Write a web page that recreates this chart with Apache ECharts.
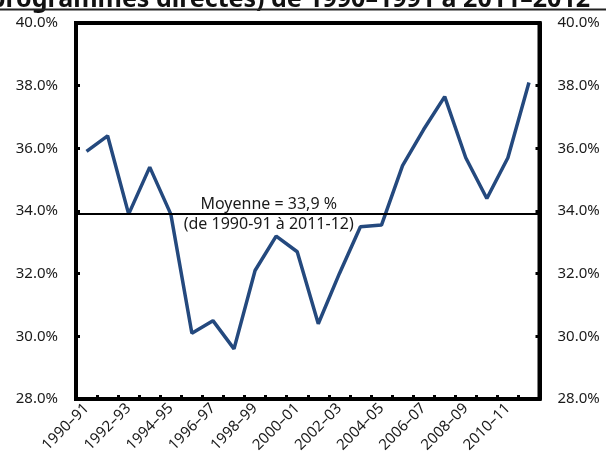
<!DOCTYPE html>
<html>
<head>
<meta charset="utf-8">
<script src="https://cdn.jsdelivr.net/npm/echarts@6/dist/echarts.min.js"></script>
<style>
  html, body { margin: 0; padding: 0; background: #fff; }
  #chart { width: 606px; height: 461px; }
</style>
</head>
<body>
<div id="chart"></div>
<script>
// Fiscal years on the category axis
var years = ['1990–91', '1991–92', '1992–93', '1993–94', '1994–95', '1995–96',
  '1996–97', '1997–98', '1998–99', '1999–00', '2000–01', '2001–02', '2002–03',
  '2003–04', '2004–05', '2005–06', '2006–07', '2007–08', '2008–09', '2009–10',
  '2010–11', '2011–12'];

// Share per year, in percent
var share = [35.9, 36.4, 33.9, 35.4, 33.9, 30.1, 30.5, 29.6, 32.1, 33.2, 32.7,
  30.4, 32.0, 33.5, 33.55, 35.45, 36.6, 37.65, 35.7, 34.4, 35.7, 38.1];

// Period average
var average = 33.9;
var averageText = ['Moyenne = 33,9 %', '(de 1990-91 à 2011-12)'];

var titleText = '(programmes directes) de 1990–1991 à 2011–2012';

var yMin = 28, yMax = 40, yStep = 2;

var font = '"Noto Sans", "Open Sans", sans-serif';
var ink = '#1a1a1a';

function pct(v) { return v.toFixed(1) + '%'; }

var chart = echarts.init(document.getElementById('chart'), null, { renderer: 'canvas' });

var yAxisBase = {
  type: 'value',
  min: yMin, max: yMax, interval: yStep,
  axisLine: { show: true, lineStyle: { color: '#000', width: 4 } },
  axisTick: { show: true, inside: true, length: 4, lineStyle: { color: '#000', width: 3 } },
  splitLine: { show: false },
  axisLabel: { formatter: pct, color: ink, fontFamily: font, fontSize: 15, margin: 18 }
};

chart.setOption({
  animation: false,
  backgroundColor: '#fff',
  grid: {
    left: 76, right: 66.5, top: 23, bottom: 62,
    show: true, borderColor: '#000', borderWidth: 4, backgroundColor: 'transparent'
  },
  xAxis: {
    type: 'category',
    data: years,
    boundaryGap: true,
    axisLine: { show: true, lineStyle: { color: '#000', width: 4 } },
    axisTick: { show: true, inside: true, interval: 0, length: 4, lineStyle: { color: '#000', width: 3 } },
    axisLabel: { interval: 1, rotate: 45, color: ink, fontFamily: font, fontSize: 15, margin: 7 }
  },
  yAxis: [
    Object.assign({}, yAxisBase, { position: 'left' }),
    Object.assign({}, yAxisBase, { position: 'right' })
  ],
  series: [{
    type: 'line',
    data: share,
    yAxisIndex: 0,
    symbol: 'none',
    lineStyle: { color: '#24497E', width: 3.5 },
    markLine: {
      silent: true,
      symbol: ['none', 'none'],
      lineStyle: { color: '#000', width: 2, type: 'solid' },
      label: {
        show: true,
        position: 'insideMiddle',
        formatter: averageText.join('\n'),
        color: ink,
        fontFamily: font,
        fontSize: 16,
        lineHeight: 20,
        offset: [-39, 0]
      },
      data: [{ yAxis: average }]
    },
    z: 3
  }],
  graphic: [
    {
      type: 'text',
      x: 590,
      y: 12,
      z: 10,
      style: {
        text: titleText,
        fill: '#111',
        font: 'bold 25px ' + font,
        align: 'right',
        verticalAlign: 'bottom'
      }
    },
    {
      type: 'line',
      z: 11,
      shape: { x1: 0, y1: 9.5, x2: 606, y2: 9.5 },
      style: { stroke: '#222', lineWidth: 2 }
    }
  ]
});
</script>
</body>
</html>
